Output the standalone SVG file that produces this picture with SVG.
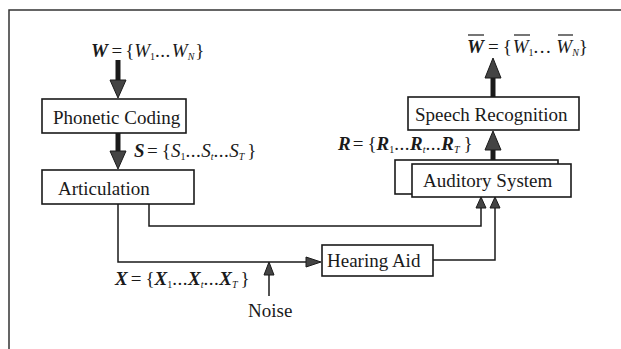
<svg xmlns="http://www.w3.org/2000/svg" width="621" height="349" viewBox="0 0 621 349">
  <style>
    .box { fill: #fff; stroke: #1a1a1a; stroke-width: 1.6; }
    .lbl { font-family: "Liberation Serif", "Times New Roman", serif; font-size: 19px; fill: #1a1a1a; }
    .eq { font-family: "Liberation Serif", "Times New Roman", serif; font-size: 19px; fill: #1a1a1a; }
    .bi { font-weight: bold; font-style: italic; }
    .it { font-style: italic; }
    .sub { font-size: 10px; }
    .dots { letter-spacing: 0.5px; }
    .wdots { letter-spacing: 1.5px; }
    .wire { fill: none; stroke: #1a1a1a; stroke-width: 1.5; }
    .thick { fill: none; stroke: #1a1a1a; stroke-width: 5; }
    .head { fill: #444; stroke: #1a1a1a; stroke-width: 1; stroke-linejoin: miter; }
  </style>

  <!-- frame -->
  <path d="M9,349 V10 H621" fill="none" stroke="#333" stroke-width="1.5"/>

  <g id="connectors">
    <!-- W -> Phonetic Coding -->
    <line class="thick" x1="118" y1="60" x2="118" y2="81"/>
    <polygon class="head" points="110,80 126,80 118,98"/>
    <!-- Phonetic Coding -> Articulation -->
    <line class="thick" x1="118" y1="133" x2="118" y2="152"/>
    <polygon class="head" points="110,151 126,151 118,169"/>
    <!-- Articulation -> Hearing Aid -->
    <path class="wire" d="M118,204 V262 H308"/>
    <polygon class="head" points="306,257 306,267 321,262"/>
    <!-- Articulation -> Auditory System (direct) -->
    <path class="wire" d="M149,204 V226 H481 V206"/>
    <polygon class="head" points="476,208 486,208 481,197"/>
    <!-- Hearing Aid -> Auditory System -->
    <path class="wire" d="M433,260 H495 V206"/>
    <polygon class="head" points="490,208 500,208 495,197"/>
    <!-- Noise -->
    <line class="wire" x1="269" y1="296" x2="269" y2="272"/>
    <polygon class="head" points="264,275 274,275 269,262"/>
    <!-- Auditory System -> Speech Recognition -->
    <line class="thick" x1="493" y1="162" x2="493" y2="148"/>
    <polygon class="head" points="485,150 501,150 493,131"/>
    <!-- Speech Recognition -> output -->
    <line class="thick" x1="493" y1="97" x2="493" y2="76"/>
    <polygon class="head" points="485,78 501,78 493,58"/>
  </g>

  <g id="phonetic-coding">
    <rect class="box" x="42" y="99" width="144" height="34"/>
    <text class="lbl" x="53" y="124">Phonetic Coding</text>
  </g>

  <g id="articulation">
    <rect class="box" x="42" y="170" width="152" height="34"/>
    <text class="lbl" x="58" y="195">Articulation</text>
  </g>

  <g id="hearing-aid">
    <rect class="box" x="322" y="245" width="111" height="31"/>
    <text class="lbl" x="327" y="267">Hearing Aid</text>
  </g>

  <g id="auditory-system">
    <rect class="box" x="395" y="160" width="163" height="34" stroke="#444"/>
    <rect class="box" x="412" y="164" width="159" height="33"/>
    <text class="lbl" x="423" y="187">Auditory System</text>
  </g>

  <g id="speech-recognition">
    <rect class="box" x="408" y="97" width="171" height="33"/>
    <text class="lbl" x="415" y="121">Speech Recognition</text>
  </g>

  <g id="labels">
    <!-- W = {W1...WN} -->
    <text class="eq" x="91" y="57"><tspan class="bi">W</tspan><tspan dx="3.5">=</tspan><tspan dx="3">{</tspan><tspan class="it">W</tspan><tspan class="sub" y="60">1</tspan><tspan class="dots" y="57">...</tspan><tspan class="it" dx="1">W</tspan><tspan class="sub it" y="60">N</tspan><tspan dx="1" y="57">}</tspan></text>

    <!-- S = {S1...St...ST} -->
    <text class="eq" x="134" y="157"><tspan class="bi">S</tspan><tspan dx="2.5">=</tspan><tspan dx="4">{</tspan><tspan class="it">S</tspan><tspan class="sub" y="160">1</tspan><tspan class="dots" y="157">...</tspan><tspan class="it">S</tspan><tspan class="sub it" y="160">t</tspan><tspan class="dots" y="157">...</tspan><tspan class="it">S</tspan><tspan class="sub it" y="160">T</tspan><tspan dx="3" y="157">}</tspan></text>

    <!-- X = {X1...Xt...XT} -->
    <text class="eq" x="115" y="285"><tspan class="bi">X</tspan><tspan dx="3">=</tspan><tspan dx="4">{</tspan><tspan class="bi">X</tspan><tspan class="sub" y="288">1</tspan><tspan class="dots" y="285">...</tspan><tspan class="bi">X</tspan><tspan class="sub it" y="288">t</tspan><tspan class="dots" y="285">...</tspan><tspan class="bi">X</tspan><tspan class="sub it" y="288">T</tspan><tspan dx="3" y="285">}</tspan></text>

    <!-- R = {R1...Rt...RT} -->
    <text class="eq" x="338" y="150"><tspan class="bi">R</tspan><tspan dx="2">=</tspan><tspan dx="4">{</tspan><tspan class="bi">R</tspan><tspan class="sub" y="153">1</tspan><tspan class="dots" y="150">...</tspan><tspan class="bi">R</tspan><tspan class="sub it" y="153">t</tspan><tspan class="dots" y="150">...</tspan><tspan class="bi">R</tspan><tspan class="sub it" y="153">T</tspan><tspan dx="4" y="150">}</tspan></text>

    <!-- recognised words: W = {W1...WN}, drawn with overbars -->
    <text class="eq" x="467" y="53"><tspan class="bi">W</tspan><tspan dx="4">=</tspan><tspan dx="4">{</tspan><tspan class="it" dx="1">W</tspan><tspan class="sub" y="56">1</tspan><tspan class="wdots" y="53">...</tspan><tspan class="it" dx="4">W</tspan><tspan class="sub it" y="56">N</tspan><tspan y="53">}</tspan></text>
    <g stroke="#1a1a1a" stroke-width="1.2">
      <line x1="468" y1="35" x2="484" y2="35"/>
      <line x1="514" y1="35" x2="530" y2="35"/>
      <line x1="558" y1="35" x2="573" y2="35"/>
    </g>

    <text class="lbl" x="248" y="317">Noise</text>
  </g>
</svg>
